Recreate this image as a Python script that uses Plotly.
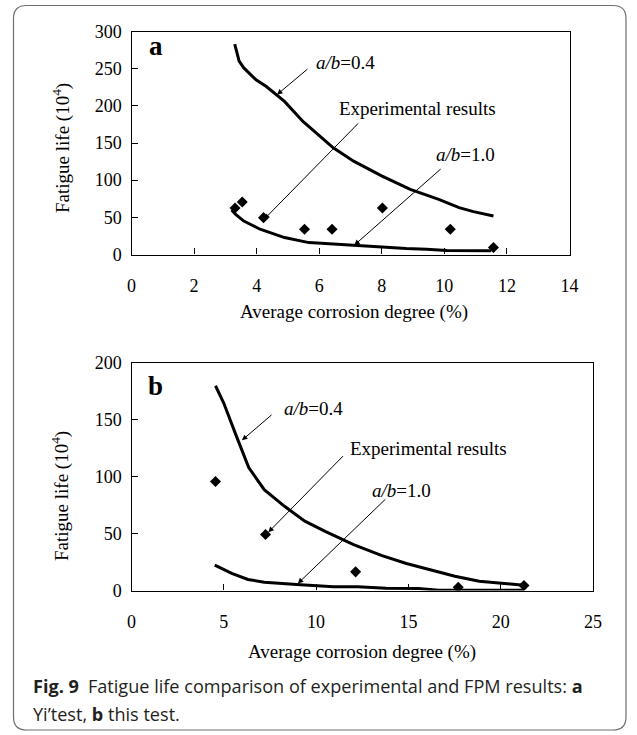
import plotly.graph_objects as go

# ---------------- data ----------------
# panel a (Yi's test)
a_x04 = [3.30, 3.44, 3.59, 3.98, 4.31, 4.89, 5.48, 6.06, 6.45, 7.10, 8.01, 8.91, 9.82, 10.47, 10.93, 11.57]
a_y04 = [283, 260, 251, 235, 226, 206, 179, 157, 143.5, 125.6, 105.5, 87.6, 74.2, 63, 57.7, 51.9]
a_x10 = [3.20, 3.33, 3.59, 4.11, 4.89, 5.67, 6.19, 6.97, 8.01, 8.78, 9.43, 10.08, 11.50]
a_y10 = [60, 54, 45, 34, 22.8, 16, 14.8, 12.5, 9.4, 8, 7.2, 5.5, 5]
a_exp_x = [3.31, 3.54, 4.22, 5.53, 6.41, 8.02, 10.19, 11.57]
a_exp_y = [62.6, 70.6, 49.6, 34, 34, 62.6, 34, 9.4]
a_xticks = [0, 2, 4, 6, 8, 10, 12, 14]
a_yticks = [0, 50, 100, 150, 200, 250, 300]

# panel b (this test)
b_x04 = [4.55, 4.99, 5.65, 6.35, 7.19, 8.29, 9.39, 10.49, 12.03, 13.57, 14.89, 16.20, 17.52, 18.84, 20.16, 21.26]
b_y04 = [180, 165, 137, 108, 88.7, 74, 61, 52, 40.4, 30.7, 23.7, 18.4, 12.6, 8.2, 6.1, 4.7]
b_x10 = [4.51, 5.43, 6.31, 7.19, 8.95, 10.93, 12.25, 13.79, 15.55, 16.64, 21.26]
b_y10 = [22.3, 15, 9.7, 7.3, 5.3, 3.2, 3.2, 2, 1.8, 0.3, 0.3]
b_exp_x = [4.55, 7.26, 12.14, 17.70, 21.26]
b_exp_y = [95.8, 49.2, 16.4, 2.9, 4.4]
b_xticks = [0, 5, 10, 15, 20, 25]
b_yticks = [0, 50, 100, 150, 200]

x_title = "Average corrosion degree (%)"
y_title = "Fatigue life (10<sup>4</sup>)"
caption1 = "<b>Fig. 9</b>\u2002Fatigue life comparison of experimental and FPM results: <b>a</b>"
caption2 = "Yi\u2019test, <b>b</b> this test."

# --------------- layout helpers ---------------
W, H = 637, 735
def px(x):
    return x / W
def py(y):
    return 1 - y / H

SERIF = "Liberation Serif"
fig = go.Figure()

line_style = dict(color="black", width=3)
mark_style = dict(symbol="diamond", size=8.5, color="black")

fig.add_trace(go.Scatter(x=a_x04, y=a_y04, mode="lines", line=line_style, xaxis="x", yaxis="y", showlegend=False))
fig.add_trace(go.Scatter(x=a_x10, y=a_y10, mode="lines", line=line_style, xaxis="x", yaxis="y", showlegend=False))
fig.add_trace(go.Scatter(x=a_exp_x, y=a_exp_y, mode="markers", marker=mark_style, xaxis="x", yaxis="y", showlegend=False))

fig.add_trace(go.Scatter(x=b_x04, y=b_y04, mode="lines", line=line_style, xaxis="x2", yaxis="y2", showlegend=False))
fig.add_trace(go.Scatter(x=b_x10, y=b_y10, mode="lines", line=line_style, xaxis="x2", yaxis="y2", showlegend=False))
fig.add_trace(go.Scatter(x=b_exp_x, y=b_exp_y, mode="markers", marker=mark_style, xaxis="x2", yaxis="y2", showlegend=False))

tickfont = dict(family=SERIF, size=18, color="black")
common_x = dict(showgrid=False, zeroline=False, showline=True, linecolor="black", linewidth=1.3,
                mirror=True, ticks="inside", ticklen=6, tickcolor="black", tickwidth=1,
                tickfont=tickfont, ticklabelstandoff=15, automargin=False)
common_y = dict(showgrid=False, zeroline=True, zerolinecolor="black", zerolinewidth=2.5,
                showline=True, linecolor="black", linewidth=1.3,
                mirror=True, ticks="inside", ticklen=6, tickcolor="black", tickwidth=1,
                tickfont=tickfont, ticklabelstandoff=5, automargin=False)

ax_l = px(131.5)
fig.update_layout(
    template="none",
    width=W, height=H, autosize=False,
    margin=dict(l=0, r=0, t=0, b=0, pad=0),
    paper_bgcolor="white", plot_bgcolor="white",
    showlegend=False,
    xaxis=dict(domain=[ax_l, px(569.5)], range=[0, 14], tickvals=a_xticks, anchor="y", **common_x),
    yaxis=dict(domain=[py(254.5), py(31.5)], range=[0, 300], tickvals=a_yticks, anchor="x", **common_y),
    xaxis2=dict(domain=[ax_l, px(593)], range=[0, 25], tickvals=b_xticks, anchor="y2", **common_x),
    yaxis2=dict(domain=[py(590.5), py(363)], range=[0, 200], tickvals=b_yticks, anchor="x2", **common_y),
)

annots = []
afont = dict(family=SERIF, size=19, color="black")

def arrow(xr, yr, tip, tail):
    annots.append(dict(xref=xr, yref=yr, axref=xr, ayref=yr, x=tip[0], y=tip[1], ax=tail[0], ay=tail[1],
                       text="", showarrow=True, arrowhead=2, arrowsize=1.1, arrowwidth=1, arrowcolor="black"))

def label(xr, yr, x, y, text, font=None, xanchor="center", yanchor="middle", **kw):
    annots.append(dict(xref=xr, yref=yr, x=x, y=y, text=text, showarrow=False,
                       xanchor=xanchor, yanchor=yanchor,
                       font=font if font else afont, **kw))

bold_font = dict(family=SERIF, size=27, color="black")

# panel a annotations
label("x", "y", 6.85, 258, "<i>a/b</i>=0.4")
arrow("x", "y", (4.65, 215), (5.67, 251))
label("x", "y", 9.15, 196.4, "Experimental results")
arrow("x", "y", (4.24, 47.4), (7.29, 178.3))
label("x", "y", 10.68, 134.9, "<i>a/b</i>=1.0")
arrow("x", "y", (7.12, 12.5), (9.93, 116.7))
label("x", "y", 0.5, 281, "<b>a</b>", font=bold_font, xanchor="left")

# panel b annotations
label("x2", "y2", 9.87, 159.6, "<i>a/b</i>=0.4")
arrow("x2", "y2", (5.98, 132), (7.67, 155.5))
label("x2", "y2", 16.1, 124.5, "Experimental results")
arrow("x2", "y2", (7.41, 51.2), (11.54, 119.5))
label("x2", "y2", 14.62, 88, "<i>a/b</i>=1.0")
arrow("x2", "y2", (9.01, 6.1), (13.83, 81.4))
label("x2", "y2", 0.8, 179.8, "<b>b</b>", font=bold_font, xanchor="left")

# axis titles
for (xc, yc) in [(354, 312.5), (362, 652)]:
    label("paper", "paper", px(xc), py(yc), x_title)
for (xc, yc) in [(61, 148), (61, 496)]:
    label("paper", "paper", px(xc), py(yc), y_title, textangle=-90)

# caption
capfont = dict(family="Open Sans", size=18.1, color="#231f20")
label("paper", "paper", px(31), py(685.5), caption1, font=capfont, xanchor="left")
label("paper", "paper", px(31), py(714), caption2, font=capfont, xanchor="left")

fig.update_layout(annotations=annots)

# rounded outer frame
x0, x1, y0, y1, r = px(13.5), px(626), py(730), py(5.5), 13
rx, ry = r / W, r / H
path = (f"M {x0+rx},{y1} L {x1-rx},{y1} Q {x1},{y1} {x1},{y1-ry} "
        f"L {x1},{y0+ry} Q {x1},{y0} {x1-rx},{y0} L {x0+rx},{y0} Q {x0},{y0} {x0},{y0+ry} "
        f"L {x0},{y1-ry} Q {x0},{y1} {x0+rx},{y1} Z")
fig.add_shape(type="path", path=path, xref="paper", yref="paper", line=dict(color="#6e6e6e", width=1.2))

fig.write_html("out.html", config={"displayModeBar": False},
               post_script="document.body.style.margin='0';document.body.style.overflow='hidden';")
